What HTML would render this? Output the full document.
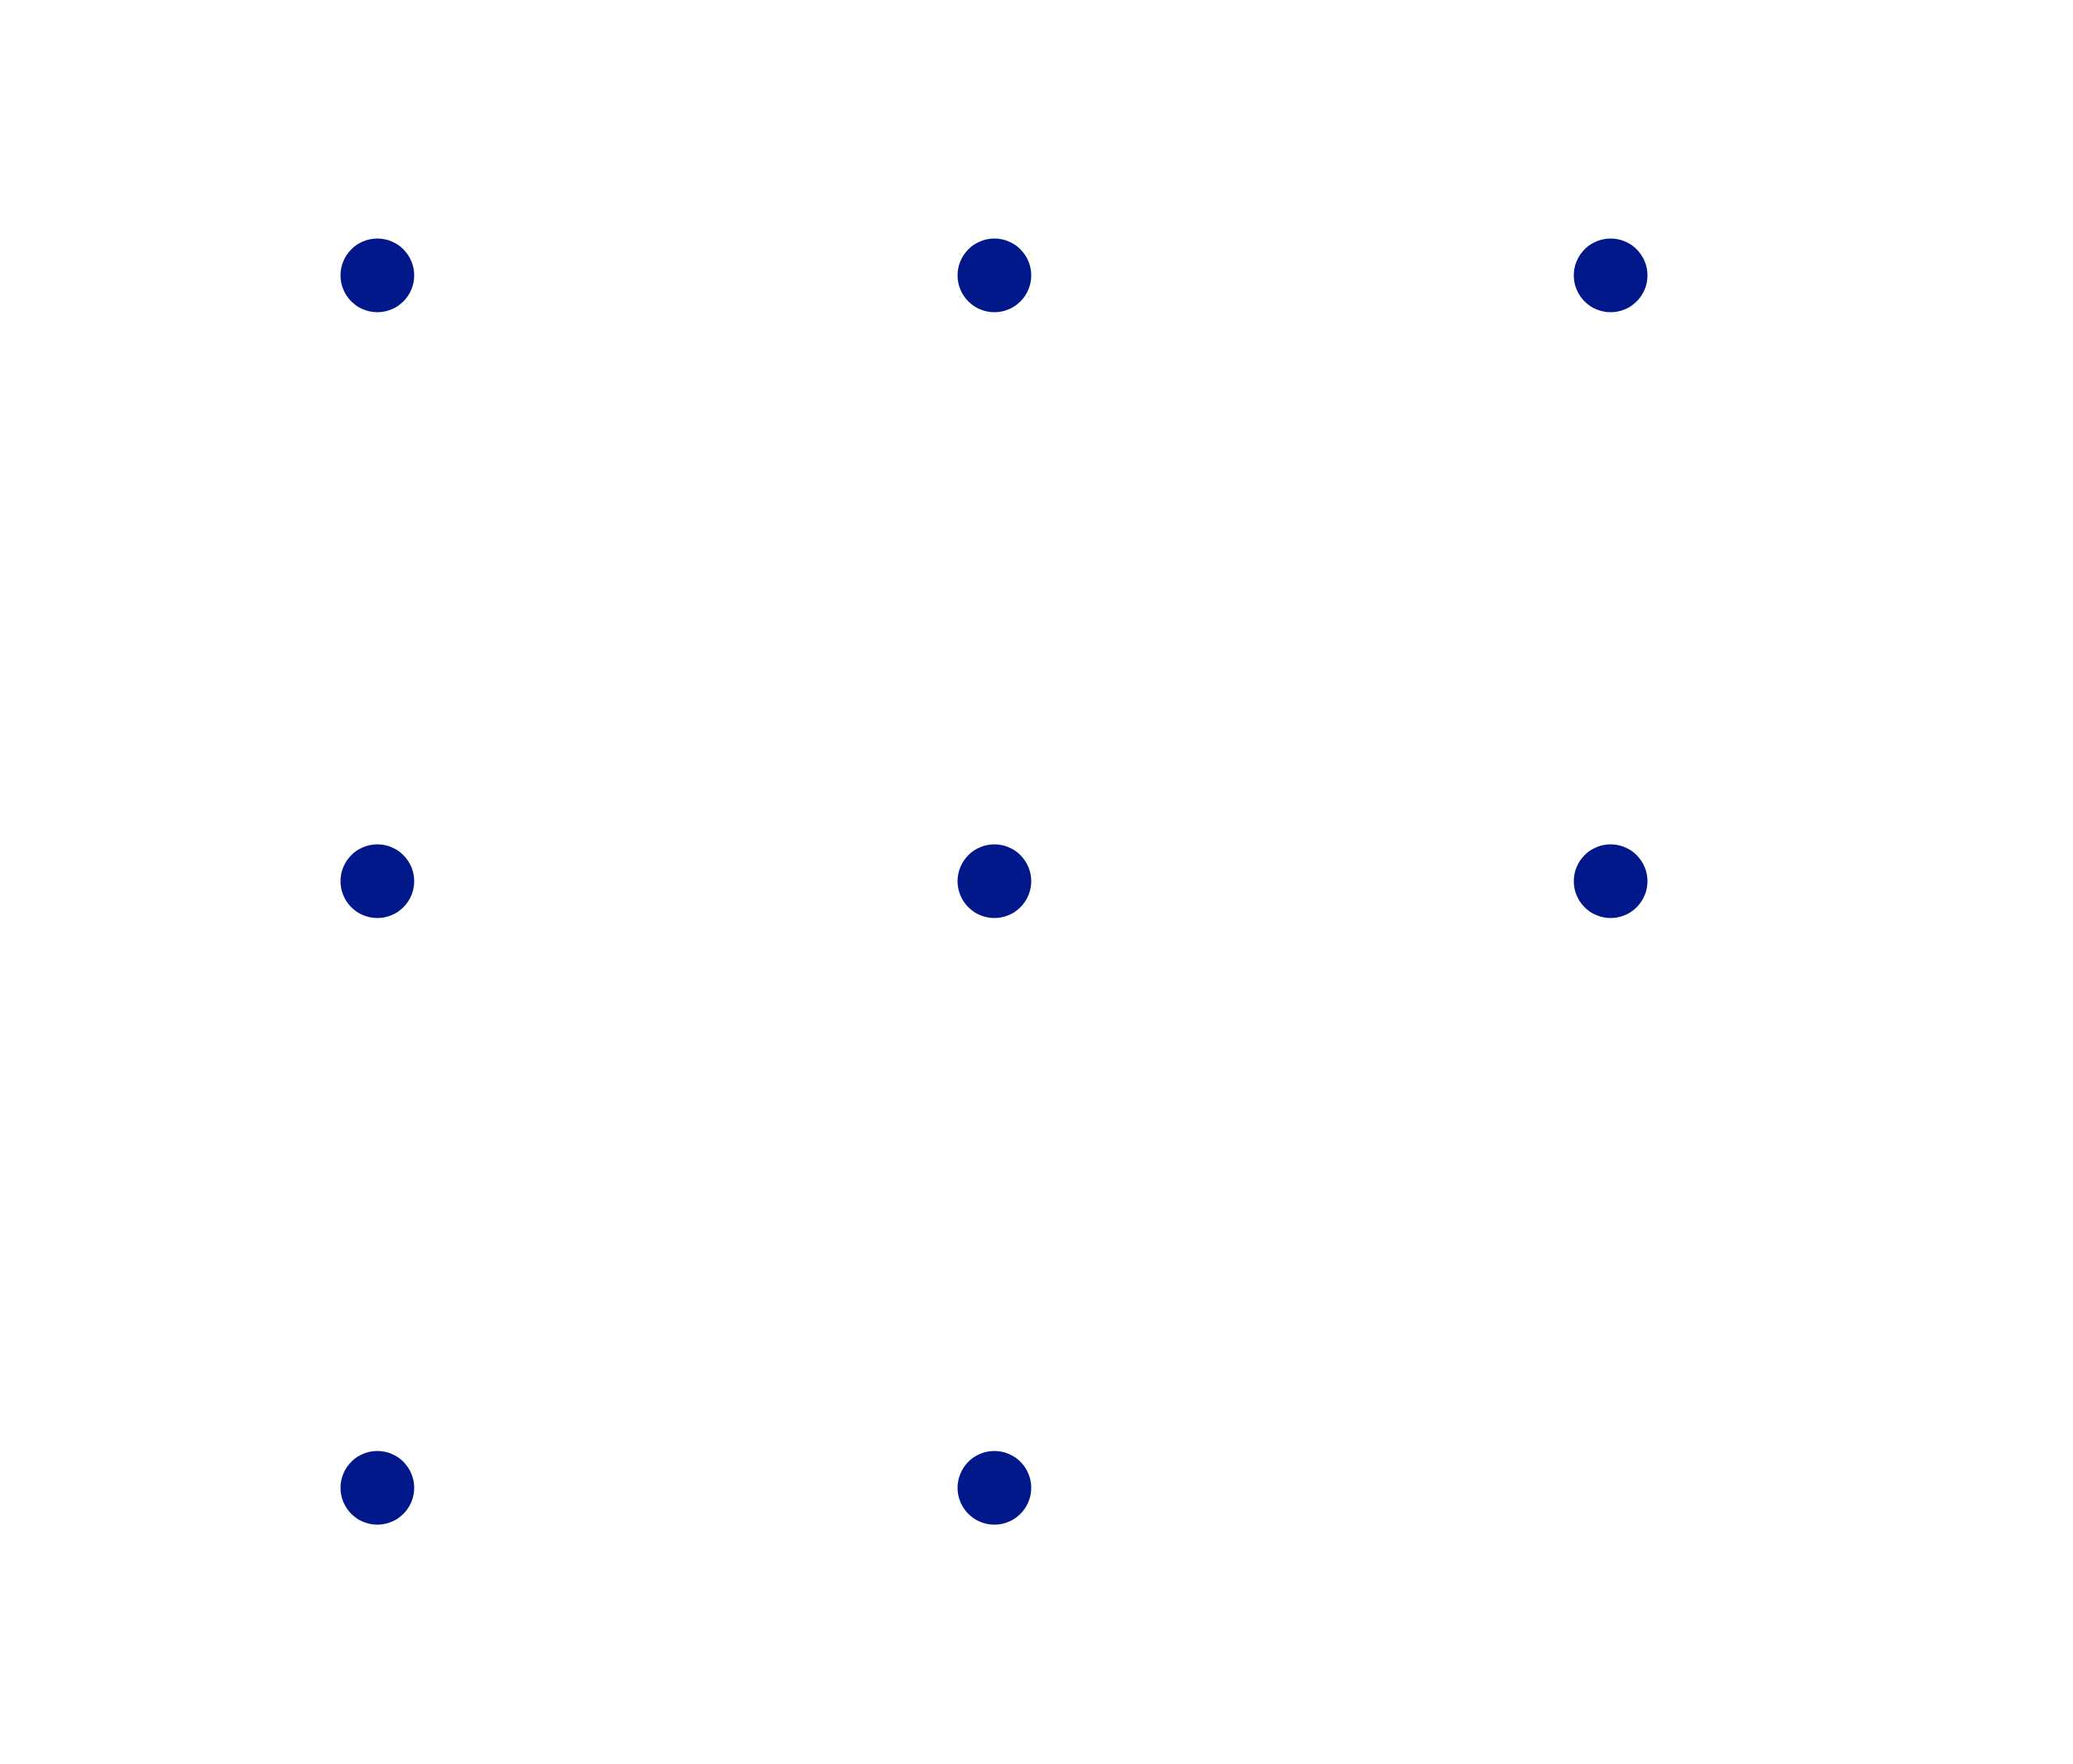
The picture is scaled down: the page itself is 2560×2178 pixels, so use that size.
<!DOCTYPE html>
<html><head><meta charset="utf-8"><style>html,body{margin:0;padding:0;background:#fff}</style></head>
<body>
<svg width="2560" height="2178" viewBox="0 0 2560 2178" xmlns="http://www.w3.org/2000/svg" style="display:block">
<rect width="2560" height="2178" fill="#fff"/>
<g fill="#00188a">
<circle cx="466" cy="340" r="45.5"/>
<circle cx="1228" cy="340" r="45.5"/>
<circle cx="1989" cy="340" r="45.5"/>
<circle cx="466" cy="1088" r="45.5"/>
<circle cx="1228" cy="1088" r="45.5"/>
<circle cx="1989" cy="1088" r="45.5"/>
<circle cx="466" cy="1837" r="45.5"/>
<circle cx="1228" cy="1837" r="45.5"/>
</g>
</svg>
</body></html>
